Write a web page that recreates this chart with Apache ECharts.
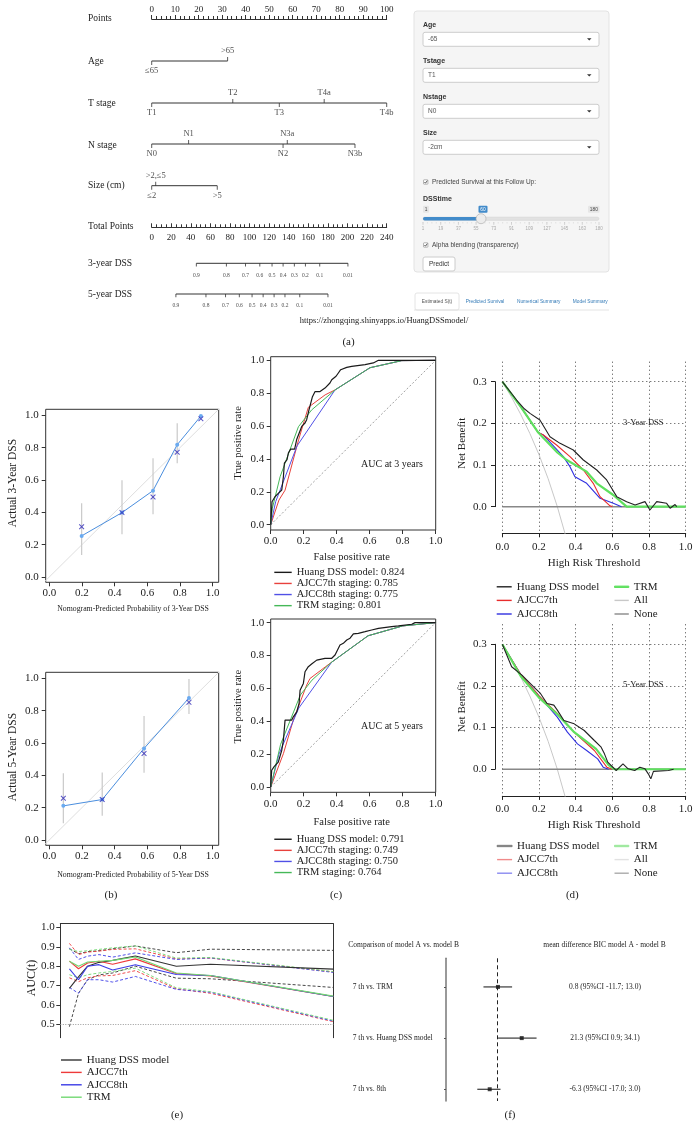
<!DOCTYPE html>
<html><head><meta charset="utf-8">
<script src="https://cdn.jsdelivr.net/npm/echarts/dist/echarts.min.js"></script>
<style>html,body{margin:0;padding:0;background:#fff}#c{width:699px;height:1138px}</style>
</head><body><div id="c"></div>
<script>
// ================= DATA =================
// (a) nomogram (points scale 0-100; survival axes on total-points scale 0-240)
const ageLevels = ['≤65', '>65'];
const agePoints = [0, 32.3];
const tLevels = ['T1', 'T2', 'T3', 'T4a', 'T4b'];
const tPoints = [0, 34.5, 54.3, 73.4, 100];
const nLevels = ['N0', 'N1', 'N2', 'N3a', 'N3b'];
const nPoints = [0, 15.7, 55.9, 57.7, 86.5];
const sizeLevels = ['≤2', '>2,≤5', '>5'];
const sizePoints = [0, 1.7, 27.9];
const dssLabels = ['0.9', '0.8', '0.7', '0.6', '0.5', '0.4', '0.3', '0.2', '0.1', '0.01'];
const dss3Total = [45.6, 76.3, 95.8, 110.4, 122.9, 134.2, 145.7, 157.0, 171.6, 200.4];
const dss5Total = [24.7, 55.4, 75.4, 89.5, 102.5, 113.8, 125.0, 136.1, 151.2, 180.0];
const sliderTicks = [1, 19, 37, 55, 73, 91, 109, 127, 145, 163, 180];

// (b) calibration
const cal3Pred = [0.198, 0.445, 0.635, 0.783, 0.928];
const cal3Obs = [0.254, 0.398, 0.534, 0.818, 0.995];
const cal3KM = [0.311, 0.398, 0.495, 0.771, 0.979];
const cal3Lo = [0.136, 0.264, 0.388, 0.703, null];
const cal3Hi = [0.456, 0.598, 0.734, 0.950, null];
const cal5Pred = [0.086, 0.324, 0.580, 0.855];
const cal5Obs = [0.211, 0.250, 0.566, 0.878];
const cal5KM = [0.258, 0.250, 0.535, 0.851];
const cal5Lo = [0.103, 0.149, 0.415, 0.779];
const cal5Hi = [0.413, 0.417, 0.766, 0.996];

// (c) ROC curves [fpr, tpr]
const roc3Huang = [[0,0],[0.008,0.14],[0.026,0.17],[0.046,0.191],[0.067,0.211],[0.077,0.292],[0.083,0.375],[0.099,0.396],[0.107,0.436],[0.121,0.46],[0.145,0.46],[0.158,0.52],[0.188,0.598],[0.208,0.619],[0.218,0.639],[0.232,0.698],[0.253,0.779],[0.269,0.81],[0.299,0.81],[0.329,0.831],[0.359,0.862],[0.37,0.882],[0.396,0.903],[0.41,0.923],[0.424,0.943],[0.461,0.957],[0.491,0.963],[0.572,0.974],[0.622,0.984],[0.653,1],[1,1]];
const roc3Ajcc7 = [[0,0],[0.05,0.15],[0.087,0.21],[0.17,0.52],[0.228,0.714],[0.33,0.79],[0.39,0.82],[0.602,0.955],[0.794,0.998],[1,1]];
const roc3Ajcc8 = [[0,0],[0.03,0.14],[0.16,0.48],[0.39,0.82],[0.602,0.955],[0.794,0.998],[1,1]];
const roc3Trm = [[0,0],[0.01,0.1],[0.057,0.292],[0.168,0.596],[0.248,0.698],[0.39,0.82],[0.602,0.955],[0.794,0.998],[1,1]];
const roc5Huang = [[0,0],[0.006,0.102],[0.022,0.126],[0.046,0.152],[0.067,0.224],[0.077,0.285],[0.087,0.407],[0.127,0.407],[0.137,0.427],[0.158,0.457],[0.172,0.508],[0.178,0.589],[0.198,0.63],[0.208,0.701],[0.228,0.732],[0.248,0.748],[0.279,0.772],[0.329,0.783],[0.37,0.783],[0.39,0.803],[0.42,0.864],[0.44,0.874],[0.461,0.894],[0.481,0.905],[0.501,0.931],[0.531,0.935],[0.572,0.945],[0.612,0.955],[0.653,0.965],[0.733,0.976],[0.774,0.98],[0.855,0.99],[0.875,1],[1,1]];
const roc5Ajcc7 = [[0,0],[0.077,0.203],[0.137,0.407],[0.218,0.62],[0.238,0.66],[0.33,0.73],[0.37,0.76],[0.59,0.92],[0.8,0.98],[1,1]];
const roc5Ajcc8 = [[0,0],[0.05,0.2],[0.17,0.48],[0.37,0.76],[0.59,0.92],[0.8,0.98],[1,1]];
const roc5Trm = [[0,0],[0.06,0.26],[0.18,0.56],[0.25,0.65],[0.37,0.76],[0.59,0.92],[0.8,0.98],[1,1]];
const auc3 = ['0.824', '0.785', '0.775', '0.801'];
const auc5 = ['0.791', '0.749', '0.750', '0.764'];

// (d) decision curves [threshold, net benefit]
const dca3All = [[0,0.3],[0.05,0.263],[0.1,0.222],[0.15,0.176],[0.2,0.125],[0.25,0.067],[0.3,0],[0.35,-0.077]];
const dca3None = [[0,0],[1,0]];
const dca3Huang = [[0,0.3],[0.078,0.256],[0.12,0.235],[0.151,0.224],[0.205,0.208],[0.26,0.168],[0.315,0.152],[0.387,0.136],[0.442,0.112],[0.515,0.088],[0.569,0.064],[0.624,0.024],[0.678,0.012],[0.724,0.004],[0.778,0.012],[0.805,-0.008],[0.842,0.012],[0.896,0.008],[0.915,-0.004],[0.942,0.005],[0.951,0]];
const dca3Ajcc7 = [[0,0.3],[0.1,0.24],[0.196,0.178],[0.224,0.172],[0.296,0.148],[0.369,0.12],[0.442,0.088],[0.496,0.056],[0.533,0.024],[0.587,0.002],[0.6,0]];
const dca3Ajcc8 = [[0,0.3],[0.1,0.24],[0.196,0.178],[0.224,0.172],[0.333,0.12],[0.369,0.096],[0.396,0.072],[0.46,0.056],[0.533,0.02],[0.605,0.008],[0.65,0]];
const dca3Trm = [[0,0.3],[0.1,0.24],[0.196,0.178],[0.3,0.13],[0.351,0.112],[0.46,0.084],[0.515,0.056],[0.605,0.028],[0.678,0],[1,0]];
const dca5All = [[0,0.3],[0.05,0.263],[0.1,0.222],[0.15,0.176],[0.2,0.125],[0.25,0.067],[0.3,0],[0.35,-0.077]];
const dca5None = [[0,0],[1,0]];
const dca5Huang = [[0,0.3],[0.051,0.246],[0.107,0.226],[0.171,0.198],[0.208,0.182],[0.244,0.158],[0.281,0.154],[0.3,0.142],[0.336,0.117],[0.392,0.109],[0.447,0.093],[0.502,0.069],[0.539,0.053],[0.557,0.037],[0.575,0.017],[0.621,-0.003],[0.658,0.013],[0.686,0.001],[0.722,-0.003],[0.75,0.005],[0.778,0.001],[0.796,-0.011],[0.81,-0.023],[0.824,-0.005],[0.906,-0.003],[0.934,0]];
const dca5Ajcc7 = [[0,0.3],[0.1,0.228],[0.2,0.176],[0.3,0.134],[0.401,0.085],[0.502,0.045],[0.57,0.005],[0.6,0]];
const dca5Ajcc8 = [[0,0.3],[0.1,0.228],[0.2,0.176],[0.3,0.125],[0.355,0.089],[0.41,0.061],[0.46,0.045],[0.52,0.025],[0.55,0.005],[0.58,0]];
const dca5Trm = [[0,0.3],[0.1,0.224],[0.2,0.172],[0.3,0.132],[0.392,0.089],[0.511,0.049],[0.58,0.01],[0.61,0],[1,0]];

// (e) time-dependent AUC (months)
const aucTimes = [4, 8, 12, 17, 23, 33, 51, 66, 120];
const aucHuang   = [0.685, 0.745, 0.80, 0.82, 0.83, 0.853, 0.80, 0.81, 0.785];
const aucHuangHi = [0.89, 0.865, 0.875, 0.88, 0.89, 0.905, 0.87, 0.888, 0.882];
const aucHuangLo = [0.487, 0.66, 0.73, 0.755, 0.765, 0.80, 0.738, 0.735, 0.69];
const aucAjcc7   = [0.826, 0.787, 0.817, 0.826, 0.81, 0.838, 0.762, 0.75, 0.643];
const aucAjcc7Hi = [0.918, 0.86, 0.873, 0.878, 0.887, 0.89, 0.838, 0.842, 0.77];
const aucAjcc7Lo = [0.74, 0.72, 0.74, 0.75, 0.752, 0.777, 0.683, 0.66, 0.513];
const aucAjcc8   = [0.786, 0.73, 0.80, 0.808, 0.78, 0.808, 0.757, 0.752, 0.643];
const aucAjcc8Hi = [0.895, 0.835, 0.852, 0.86, 0.847, 0.869, 0.835, 0.843, 0.768];
const aucAjcc8Lo = [0.69, 0.66, 0.73, 0.73, 0.718, 0.747, 0.68, 0.665, 0.516];
const aucTrm     = [0.826, 0.80, 0.822, 0.826, 0.83, 0.848, 0.765, 0.752, 0.645];
const aucTrmHi   = [0.887, 0.876, 0.88, 0.887, 0.895, 0.905, 0.842, 0.845, 0.772];
const aucTrmLo   = [0.756, 0.74, 0.756, 0.765, 0.773, 0.79, 0.688, 0.668, 0.52];

// (f) BIC comparison
const forestRows = ['7 th vs. TRM', '7 th vs. Huang DSS model', '7 th vs. 8th'];
const forestMean = [0.8, 21.3, -6.3];
const forestLo = [-11.7, 0.9, -17.0];
const forestHi = [13.0, 34.1, 3.0];

// ================= BUILD =================
const SERIF = "'Liberation Serif','DejaVu Serif',serif";
const SANS = "'Liberation Sans','DejaVu Sans',Arial,sans-serif";
const INK = '#222';
const grids = [], xAxes = [], yAxes = [], series = [], legends = [], graphics = [];
const addGrid = g => (grids.push(Object.assign({containLabel:false, show:false}, g)), grids.length - 1);
function valAxis(o) {
  const a = Object.assign({type:'value', splitLine:{show:false}, axisLabel:{show:false}, axisTick:{show:false}}, o);
  a.axisLine = Object.assign({show:false, onZero:false, lineStyle:{color:'#222', width:1}}, o.axisLine || {});
  return a;
}
const addX = o => (xAxes.push(valAxis(o)), xAxes.length - 1);
const addY = o => (yAxes.push(valAxis(o)), yAxes.length - 1);
const lab = (size, margin, extra) => Object.assign({show:true, fontFamily:SERIF, fontSize:size, color:INK, margin}, extra || {});

function txt(x, y, text, o) {
  o = o || {};
  graphics.push({type:'text', x, y, rotation:o.rot || 0, silent:true, z:o.z || 10,
    style:{text, fill:o.color || INK, fontSize:o.size || 10, fontFamily:o.family || SERIF, fontWeight:o.weight || 'normal',
      align:o.align || 'center', verticalAlign:o.va || 'middle'}});
}
function rect(x, y, w, h, fill, stroke, r, lw) {
  graphics.push({type:'rect', silent:true, z:5, shape:{x, y, width:w, height:h, r:r || 0}, style:{fill, stroke:stroke || null, lineWidth:lw || 1}});
}
function gline(x1, y1, x2, y2, stroke, lw) {
  graphics.push({type:'line', silent:true, z:6, shape:{x1, y1, x2, y2}, style:{stroke, lineWidth:lw || 1}});
}
function lineS(name, xi, yi, data, color, width, opts) {
  opts = opts || {};
  series.push(Object.assign({type:'line', name, xAxisIndex:xi, yAxisIndex:yi, data, symbol:'none', silent:true,
    lineStyle:{color, width, type:opts.dash || 'solid'}, itemStyle:{color}, z:opts.z || 2}, opts.extra || {}));
}
function addLegend(left, top, names, itemW, rowH, size, overrides) {
  overrides = overrides || {};
  legends.push({left, top, orient:'vertical', icon:'rect', itemWidth:itemW, itemHeight:1.4, itemGap:0, padding:0,
    selectedMode:false, itemStyle:{borderWidth:0},
    textStyle:{fontFamily:SERIF, fontSize:size, color:INK, lineHeight:rowH},
    formatter:n => n.split('@')[0],
    data:names.map(n => overrides[n] ? Object.assign({name:n}, overrides[n]) : n)});
}

// ---------- (a) nomogram ----------
const gN = addGrid({left:151.7, top:0, width:235, height:310});
const xNP = addX({gridIndex:gN, min:0, max:100, show:false});
const xNT = addX({gridIndex:gN, min:0, max:240, show:false});
const yNo = addY({gridIndex:gN, min:0, max:310, inverse:true, show:false});

const gP = addGrid({left:151.7, top:19, width:235, height:1});
addX({gridIndex:gP, min:0, max:100, interval:10, position:'top',
  axisLine:{show:true, lineStyle:{color:'#333', width:1}},
  axisTick:{show:true, length:4, lineStyle:{color:'#333'}},
  minorTick:{show:true, splitNumber:5, length:3, lineStyle:{color:'#333'}},
  axisLabel:lab(9, 4.5)});
addY({gridIndex:gP, show:false});

const gT = addGrid({left:151.7, top:226.3, width:235, height:1});
addX({gridIndex:gT, min:0, max:240, interval:20, position:'bottom',
  axisLine:{show:true, lineStyle:{color:'#333', width:1}},
  axisTick:{show:true, inside:true, length:4, lineStyle:{color:'#333'}},
  minorTick:{show:true, splitNumber:4, length:3, lineStyle:{color:'#333'}},
  axisLabel:lab(9, 5.5)});
addY({gridIndex:gT, show:false});

function nomoRow(levels, pts, y, xi, small) {
  lineS('row' + y, xi, yNo, [[Math.min(...pts), y], [Math.max(...pts), y]], '#333', 1);
  series.push({type:'scatter', xAxisIndex:xi, yAxisIndex:yNo, silent:true, symbol:'rect',
    symbolSize:small ? [1, 3.3] : [1, 4], itemStyle:{color:'#333'},
    label:{show:true, fontFamily:SERIF, fontSize:small ? 5.5 : 8.5, color:INK, distance:small ? 5.5 : 1.5},
    data:pts.map((p, i) => {
      const up = !small && i % 2 === 1;
      return {value:[p, y], symbolOffset:[0, up ? -2 : (small ? 1.65 : 2)],
        label:{formatter:levels[i], position:up ? 'top' : 'bottom'}};
    })});
}
nomoRow(ageLevels, agePoints, 61, xNP);
nomoRow(tLevels, tPoints, 103, xNP);
nomoRow(nLevels, nPoints, 144, xNP);
nomoRow(sizeLevels, sizePoints, 185.7, xNP);
nomoRow(dssLabels, dss3Total, 263.3, xNT, true);
nomoRow(dssLabels, dss5Total, 294, xNT, true);
[['Points', 18.3], ['Age', 61], ['T stage', 103], ['N stage', 145], ['Size (cm)', 185], ['Total Points', 226],
 ['3-year DSS', 263.3], ['5-year DSS', 294]].forEach(r => txt(88, r[1], r[0], {size:9.5, align:'left'}));
txt(384, 321, 'https://zhongqing.shinyapps.io/HuangDSSmodel/', {size:8.5});
txt(348.5, 342, '(a)', {size:11});

// ---------- Shiny panel ----------
rect(414, 11, 195, 261, '#f5f5f5', '#e3e3e3', 3);
[['Age', '-65', 25], ['Tstage', 'T1', 61], ['Nstage', 'N0', 97], ['Size', '-2cm', 133]].forEach(f => {
  txt(423, f[2], f[0], {size:7, weight:'bold', family:SANS, align:'left', color:'#333'});
  rect(423, f[2] + 7.3, 176, 14, '#fff', '#ccc', 2);
  txt(428, f[2] + 14.3, f[1], {size:6.5, family:SANS, align:'left', color:'#555'});
  graphics.push({type:'polygon', silent:true, z:7, shape:{points:[[587, f[2] + 13.2], [591.5, f[2] + 13.2], [589.25, f[2] + 15.6]]}, style:{fill:'#333'}});
});
function checkbox(y, label) {
  rect(423.5, y - 2.2, 4.4, 4.4, '#fff', '#888', 0.5, 0.6);
  graphics.push({type:'polyline', silent:true, z:7, shape:{points:[[424.4, y], [425.5, y + 1.2], [427.3, y - 1.4]]}, style:{stroke:'#333', lineWidth:0.8, fill:null}});
  txt(432, y, label, {size:6.5, family:SANS, align:'left', color:'#444'});
}
checkbox(182, 'Predicted Survival at this Follow Up:');
txt(423, 199, 'DSStime', {size:7, weight:'bold', family:SANS, align:'left', color:'#333'});
const sx = v => 423 + (v - 1) / 179 * 176;
rect(423, 205.8, 6, 7, '#e6e6e6', null, 1);
txt(426, 209.4, '1', {size:4.8, family:SANS, color:'#444'});
rect(478.5, 205.8, 9, 7, '#428bca', null, 1);
txt(483, 209.4, '60', {size:4.8, family:SANS, color:'#fff'});
rect(588, 205.8, 11.5, 7, '#e6e6e6', null, 1);
txt(593.8, 209.4, '180', {size:4.8, family:SANS, color:'#444'});
rect(423, 217, 176, 3.4, '#e2e2e2', '#d0d0d0', 1.7, 0.4);
rect(423, 217, sx(60) - 423, 3.4, '#428bca', null, 1.7);
for (let v = 1; v <= 180; v += 4.5) gline(sx(v), 222, sx(v), 223.5, '#ccc', 0.5);
sliderTicks.forEach(v => { gline(sx(v), 222, sx(v), 225, '#bbb', 0.5); txt(sx(v), 229, String(v), {size:4.5, family:SANS, color:'#aaa'}); });
graphics.push({type:'circle', silent:true, z:8, shape:{cx:sx(60), cy:218.7, r:5}, style:{fill:'#ececec', stroke:'#aaa', lineWidth:0.6}});
checkbox(245, 'Alpha blending (transparency)');
rect(423, 257, 32, 14, '#fff', '#ccc', 2);
txt(439, 264, 'Predict', {size:6.5, family:SANS, color:'#333'});
gline(414, 310, 609, 310, '#ddd', 0.8);
rect(415, 293, 44, 17, '#fff', '#ddd', 2, 0.8);
txt(437, 301.7, 'Estimated S(t)', {size:4.8, family:SANS, color:'#555'});
[['Predicted Survival', 485], ['Numerical Summary', 538.7], ['Model Summary', 590.3]].forEach(t =>
  txt(t[1], 301.7, t[0], {size:4.8, family:SANS, color:'#337ab7'}));

// ---------- (b) calibration ----------
function calibPanel(top, pred, obs, km, lo, hi, tag) {
  const g = addGrid({left:45.7, top, width:173, height:173, show:true, borderColor:'#333', borderWidth:1});
  const ticks = [0, 0.2, 0.4, 0.6, 0.8, 1.0];
  const xi = addX({gridIndex:g, min:-0.022, max:1.037,
    axisTick:{show:true, customValues:ticks, length:4, lineStyle:{color:'#333'}},
    axisLabel:lab(11, 5, {customValues:ticks, formatter:v => v.toFixed(1)})});
  const yi = addY({gridIndex:g, min:-0.033, max:1.037,
    axisTick:{show:true, customValues:ticks, length:4, lineStyle:{color:'#333'}},
    axisLabel:lab(11, 7, {customValues:ticks, formatter:v => v.toFixed(1)})});
  lineS('ideal@' + tag, xi, yi, [[-0.1, -0.1], [1.1, 1.1]], '#dedede', 1);
  series.push({type:'custom', silent:true, xAxisIndex:xi, yAxisIndex:yi, z:3,
    data:pred.map((p, i) => [p, lo[i], hi[i]]).filter(d => d[1] != null),
    encode:{x:0, y:[1, 2]},
    renderItem:(params, api) => {
      const a = api.coord([api.value(0), api.value(1)]), b = api.coord([api.value(0), api.value(2)]);
      return {type:'line', shape:{x1:a[0], y1:a[1], x2:b[0], y2:b[1]}, style:{stroke:'#c9c9c9', lineWidth:1.2}};
    }});
  lineS('obs@' + tag, xi, yi, pred.map((p, i) => [p, obs[i]]), '#4a8ede', 1, {z:4,
    extra:{symbol:'circle', symbolSize:4, showSymbol:true, itemStyle:{color:'#6aaaf0'}}});
  series.push({type:'scatter', silent:true, xAxisIndex:xi, yAxisIndex:yi, z:5,
    symbol:'path://M0 1.3L1.3 0L5 3.7L8.7 0L10 1.3L6.3 5L10 8.7L8.7 10L5 6.3L1.3 10L0 8.7L3.7 5Z', symbolSize:5.5,
    itemStyle:{color:'#2f2ab8'}, data:pred.map((p, i) => [p, km[i]])});
}
calibPanel(409.3, cal3Pred, cal3Obs, cal3KM, cal3Lo, cal3Hi, 'b3');
calibPanel(672.3, cal5Pred, cal5Obs, cal5KM, cal5Lo, cal5Hi, 'b5');
txt(133, 609.3, 'Nomogram-Predicted Probability of 3-Year DSS', {size:7.8});
txt(13.3, 483, 'Actual 3-Year DSS', {size:11.5, rot:Math.PI / 2});
txt(133, 875, 'Nomogram-Predicted Probability of 5-Year DSS', {size:7.8});
txt(13.3, 757, 'Actual 5-Year DSS', {size:11.5, rot:Math.PI / 2});
txt(111, 895, '(b)', {size:11});

// ---------- (c) ROC ----------
const C_BLACK = '#1a1a1a', C_RED = '#e8413c', C_BLUE = '#5050e6', C_GREEN = '#45b858';
function rocPanel(top, curves, aucs, tag, aucLabel, legendTop) {
  const g = addGrid({left:270.7, top, width:165, height:173.3, show:true, borderColor:'#333', borderWidth:1});
  const ticks = [0, 0.2, 0.4, 0.6, 0.8, 1.0];
  const xi = addX({gridIndex:g, min:0, max:1,
    axisTick:{show:true, customValues:ticks, length:4, lineStyle:{color:'#333'}},
    axisLabel:lab(11, 6, {customValues:ticks, formatter:v => v.toFixed(1)})});
  const yi = addY({gridIndex:g, min:-0.032, max:1.022,
    axisTick:{show:true, customValues:ticks, length:4, lineStyle:{color:'#333'}},
    axisLabel:lab(11, 6.4, {customValues:ticks, formatter:v => v.toFixed(1)})});
  lineS('chance@' + tag, xi, yi, [[0, 0], [1, 1]], '#888', 0.8, {dash:[2, 2]});
  const labels = ['Huang DSS model', 'AJCC7th staging', 'AJCC8th staging', 'TRM staging'];
  const colors = [C_BLACK, C_RED, C_BLUE, C_GREEN];
  const names = labels.map((l, i) => l + ': ' + aucs[i] + '@' + tag);
  [1, 2, 3, 0].forEach(i => lineS(names[i], xi, yi, curves[i], colors[i], i === 0 ? 1.2 : 1, {z:i === 0 ? 4 : 3}));
  txt(392, top + 107.3, aucLabel, {size:10});
  addLegend(274.3, legendTop, names, 17.4, 11.1, 10.5);
}
rocPanel(356.7, [roc3Huang, roc3Ajcc7, roc3Ajcc8, roc3Trm], auc3, 'c3', 'AUC at 3 years', 566.8);
rocPanel(619, [roc5Huang, roc5Ajcc7, roc5Ajcc8, roc5Trm], auc5, 'c5', 'AUC at 5 years', 833.7);
txt(238.3, 443, 'True positive rate', {size:10.5, rot:Math.PI / 2});
txt(351.7, 557.3, 'False positive rate', {size:10.5});
txt(238.3, 706.7, 'True positive rate', {size:10.5, rot:Math.PI / 2});
txt(351.7, 822.7, 'False positive rate', {size:10.5});
txt(336, 895, '(c)', {size:11});

// ---------- (d) decision curves ----------
const D_GREEN = '#5fe05f';
function dcaPanel(top, c, tag, label, legendTop, faded) {
  const H = 171.6, W = 183.4, L = 502.3, ymin = -0.064, ymax = 0.348;
  const g = addGrid({left:L, top, width:W, height:H});
  const xi = addX({gridIndex:g, min:0, max:1, interval:0.2,
    axisLine:{show:true, lineStyle:{color:'#222', width:1}},
    axisTick:{show:true, length:4, lineStyle:{color:'#222'}},
    splitLine:{show:true, lineStyle:{type:[1, 3], color:'#444', width:1}},
    axisLabel:lab(11, 8, {formatter:v => v.toFixed(1)})});
  const yi = addY({gridIndex:g, min:ymin, max:ymax, show:false});
  const pxPerUnit = H / (ymax - ymin);
  const g2 = addGrid({left:L, top:top + (ymax - 0.3) * pxPerUnit, width:W, height:0.3 * pxPerUnit});
  addX({gridIndex:g2, min:0, max:1, show:false});
  addY({gridIndex:g2, min:0, max:0.3, interval:0.1, offset:7.3,
    axisLine:{show:true, lineStyle:{color:'#222', width:1}},
    axisTick:{show:true, length:4, lineStyle:{color:'#222'}},
    splitLine:{show:true, lineStyle:{type:[1, 3], color:'#444', width:1}},
    axisLabel:lab(11, 8.3, {formatter:v => v.toFixed(1)})});
  const n = k => k + '@' + tag;
  lineS(n('All'), xi, yi, c.all, '#c8c8c8', 1, {z:2});
  lineS(n('None'), xi, yi, c.none, '#888', 1.5, {z:2});
  lineS(n('AJCC8th'), xi, yi, c.a8, '#3030e0', 1.1, {z:3});
  lineS(n('AJCC7th'), xi, yi, c.a7, '#e82c2c', 1.1, {z:3});
  lineS(n('TRM'), xi, yi, c.trm, D_GREEN, 2.2, {z:4});
  lineS(n('Huang DSS model'), xi, yi, c.huang, '#222', 1.1, {z:5});
  txt(643.3, top + 60.6, label, {size:8.5});
  const ov = {};
  ov[n('TRM')] = {itemStyle:{borderWidth:1, borderColor:faded ? '#9be89b' : D_GREEN, color:faded ? '#9be89b' : D_GREEN}};
  if (faded) {
    ov[n('Huang DSS model')] = {itemStyle:{color:'#777', borderWidth:0.8, borderColor:'#777'}};
    ov[n('AJCC7th')] = {itemStyle:{color:'#f08a8a'}};
    ov[n('AJCC8th')] = {itemStyle:{color:'#8a8af0'}};
    ov[n('All')] = {itemStyle:{color:'#e2e2e2'}};
    ov[n('None')] = {itemStyle:{color:'#aaa'}};
  }
  addLegend(496.7, legendTop, [n('Huang DSS model'), n('AJCC7th'), n('AJCC8th')], 15, 13.6, 11, ov);
  addLegend(614, legendTop, [n('TRM'), n('All'), n('None')], 14.3, 13.6, 11, ov);
}
dcaPanel(361.7, {all:dca3All, none:dca3None, huang:dca3Huang, a7:dca3Ajcc7, a8:dca3Ajcc8, trm:dca3Trm}, 'd3', '3-Year DSS', 580, false);
dcaPanel(624.3, {all:dca5All, none:dca5None, huang:dca5Huang, a7:dca5Ajcc7, a8:dca5Ajcc8, trm:dca5Trm}, 'd5', '5-Year DSS', 839.2, true);
txt(461.7, 443.3, 'Net Benefit', {size:11, rot:Math.PI / 2});
txt(594, 562.7, 'High Risk Threshold', {size:11});
txt(461.7, 706.7, 'Net Benefit', {size:11, rot:Math.PI / 2});
txt(594, 825, 'High Risk Threshold', {size:11});
txt(572.3, 895, '(d)', {size:11});

// ---------- (e) time-dependent AUC ----------
(function () {
  const g = addGrid({left:60.3, top:923.7, width:273, height:114});
  const ticks = [0.5, 0.6, 0.7, 0.8, 0.9, 1.0];
  const xi = addX({gridIndex:g, min:0, max:120, show:false});
  addX({gridIndex:g, min:0, max:120, position:'top', axisLine:{show:true, lineStyle:{color:'#333', width:1}}});
  const yi = addY({gridIndex:g, min:0.43, max:1.02,
    axisLine:{show:true, lineStyle:{color:'#333', width:1}},
    axisTick:{show:true, customValues:ticks, length:4, lineStyle:{color:'#333'}},
    axisLabel:lab(11, 5.5, {customValues:ticks, formatter:v => v.toFixed(1)})});
  addY({gridIndex:g, min:0.43, max:1.02, position:'right', axisLine:{show:true, lineStyle:{color:'#333', width:1}}});
  const pts = arr => aucTimes.map((t, i) => [t, arr[i]]);
  const sets = [
    ['Huang DSS model', aucHuang, aucHuangLo, aucHuangHi, '#333'],
    ['AJCC7th', aucAjcc7, aucAjcc7Lo, aucAjcc7Hi, '#ee3a3a'],
    ['AJCC8th', aucAjcc8, aucAjcc8Lo, aucAjcc8Hi, '#3c3ce6'],
    ['TRM', aucTrm, aucTrmLo, aucTrmHi, '#72d872']];
  sets.forEach(s => {
    lineS(s[0] + ' lower@e', xi, yi, pts(s[2]), s[4], 0.9, {dash:[3, 2], z:2});
    lineS(s[0] + ' upper@e', xi, yi, pts(s[3]), s[4], 0.9, {dash:[3, 2], z:2});
  });
  sets.forEach(s => lineS(s[0] + '@e', xi, yi, pts(s[1]), s[4], 1.1, {z:3}));
  series[series.length - 1].markLine = {silent:true, symbol:'none', label:{show:false},
    lineStyle:{color:'#999', type:[1, 1.5], width:1}, data:[{yAxis:0.5}]};
  addLegend(61, 1053.8, sets.map(s => s[0] + '@e'), 20.7, 12.4, 11);
  txt(31.7, 978, 'AUC(t)', {size:12, rot:Math.PI / 2});
  txt(177, 1115, '(e)', {size:11});
})();

// ---------- (f) BIC forest ----------
(function () {
  const g = addGrid({left:446, top:958.3, width:120.6, height:142.7});
  const xi = addX({gridIndex:g, min:-44, max:60, show:false});
  const rows = [0, 1, 2];
  const yi = addY({gridIndex:g, min:-0.56, max:2.23, inverse:true,
    axisLine:{show:true, lineStyle:{color:'#777', width:1.5}},
    axisTick:{show:true, customValues:rows, length:2, lineStyle:{color:'#555'}},
    axisLabel:lab(7.5, 93.3, {customValues:rows, align:'left', formatter:v => forestRows[Math.round(v)]})});
  addY({gridIndex:g, min:-0.56, max:2.23, inverse:true, position:'right',
    axisLabel:lab(7.5, 38.4, {customValues:rows, align:'center',
      formatter:v => { const i = Math.round(v); return forestMean[i].toFixed(1) + ' (95%CI ' + forestLo[i].toFixed(1) + '; ' + forestHi[i].toFixed(1) + ')'; }})});
  series.push({type:'custom', silent:true, xAxisIndex:xi, yAxisIndex:yi, z:3,
    data:rows.map(i => [forestLo[i], forestHi[i], i]), encode:{x:[0, 1], y:2},
    renderItem:(params, api) => {
      const a = api.coord([api.value(0), api.value(2)]), b = api.coord([api.value(1), api.value(2)]);
      return {type:'line', shape:{x1:a[0], y1:a[1], x2:b[0], y2:b[1]}, style:{stroke:'#111', lineWidth:1}};
    },
    markLine:{silent:true, symbol:'none', label:{show:false}, lineStyle:{color:'#222', type:[4, 3], width:1}, data:[{xAxis:0}]}});
  series.push({type:'scatter', silent:true, xAxisIndex:xi, yAxisIndex:yi, z:4, symbol:'rect', symbolSize:4,
    itemStyle:{color:'#111'}, data:rows.map(i => [forestMean[i], i])});
  txt(348.3, 945, 'Comparison of model A vs. model B', {size:7.5, align:'left'});
  txt(543.3, 945, 'mean difference BIC model A - model B', {size:7.5, align:'left'});
  txt(510, 1115, '(f)', {size:11});
})();

const chart = echarts.init(document.getElementById('c'), null, {renderer:'canvas', width:699, height:1138});
chart.setOption({animation:false, backgroundColor:'#fff', grid:grids, xAxis:xAxes, yAxis:yAxes,
  series, legend:legends, graphic:graphics, tooltip:{show:false}});
</script></body></html>
